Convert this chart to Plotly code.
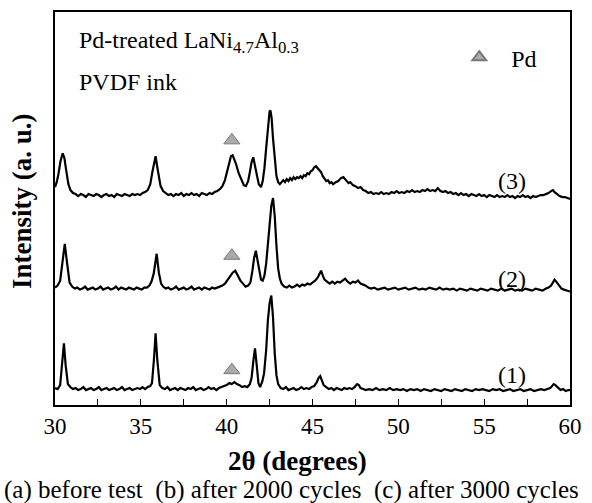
import plotly.graph_objects as go

# XRD patterns: (2theta in degrees, intensity in a.u.)
pattern1 = [
    (30.0, 17), (30.15, 16), (30.3, 20), (30.42, 40), (30.52, 62), (30.62, 40), (30.75, 21), (30.9, 18),
    (31.05, 16), (31.2, 17), (31.35, 15), (31.5, 16), (31.65, 18), (31.8, 15), (31.95, 16), (32.1, 17),
    (32.25, 15), (32.4, 16), (32.55, 18), (32.7, 15), (32.85, 16), (33.0, 17), (33.15, 15), (33.3, 16),
    (33.45, 17), (33.6, 15), (33.75, 16), (33.9, 18), (34.05, 15), (34.2, 16), (34.35, 17), (34.5, 15),
    (34.65, 16), (34.8, 17), (34.95, 16), (35.1, 18), (35.25, 16), (35.4, 18), (35.55, 19), (35.65, 22),
    (35.76, 45), (35.86, 72), (35.96, 45), (36.1, 20), (36.25, 17), (36.4, 16), (36.55, 18), (36.7, 15),
    (36.85, 16), (37.0, 17), (37.15, 15), (37.3, 17), (37.45, 16), (37.6, 15), (37.75, 17), (37.9, 16),
    (38.05, 18), (38.2, 15), (38.35, 16), (38.5, 17), (38.65, 15), (38.8, 16), (38.95, 18), (39.1, 16),
    (39.25, 17), (39.4, 15), (39.55, 17), (39.7, 18), (39.85, 19), (40.0, 20), (40.15, 22), (40.3, 21),
    (40.45, 23), (40.6, 21), (40.75, 20), (40.9, 18), (41.05, 19), (41.2, 18), (41.35, 21), (41.45, 27),
    (41.56, 45), (41.65, 57), (41.75, 40), (41.85, 22), (41.95, 18), (42.08, 24), (42.18, 32), (42.3, 55),
    (42.4, 85), (42.5, 102), (42.6, 110), (42.7, 88), (42.8, 52), (42.9, 30), (43.0, 21), (43.15, 17),
    (43.3, 16), (43.45, 18), (43.6, 15), (43.75, 16), (43.9, 17), (44.05, 15), (44.2, 16), (44.35, 18),
    (44.5, 16), (44.65, 17), (44.8, 16), (44.95, 18), (45.1, 19), (45.25, 23), (45.35, 27), (45.45, 29),
    (45.55, 24), (45.65, 20), (45.8, 18), (45.95, 16), (46.1, 17), (46.25, 15), (46.4, 17), (46.55, 16),
    (46.7, 15), (46.85, 17), (47.0, 16), (47.15, 17), (47.3, 16), (47.45, 18), (47.6, 21), (47.7, 20),
    (47.8, 17), (47.95, 16), (48.1, 15), (48.3, 16), (48.5, 15), (48.7, 17), (48.9, 15), (49.1, 16),
    (49.3, 15), (49.5, 17), (49.7, 15), (49.9, 16), (50.1, 15), (50.3, 16), (50.5, 14), (50.7, 16),
    (50.9, 15), (51.1, 16), (51.3, 14), (51.5, 16), (51.7, 15), (51.9, 14), (52.1, 16), (52.3, 15),
    (52.5, 14), (52.7, 16), (52.9, 15), (53.1, 14), (53.3, 16), (53.5, 15), (53.7, 14), (53.9, 16),
    (54.1, 15), (54.3, 14), (54.5, 16), (54.7, 15), (54.9, 16), (55.1, 15), (55.3, 14), (55.5, 16),
    (55.7, 15), (55.9, 16), (56.1, 14), (56.3, 15), (56.5, 16), (56.7, 14), (56.9, 15), (57.1, 16),
    (57.3, 14), (57.5, 15), (57.7, 16), (57.9, 14), (58.1, 15), (58.3, 16), (58.5, 15), (58.7, 16),
    (58.85, 17), (58.95, 19), (59.05, 21), (59.15, 20), (59.3, 17), (59.45, 15), (59.6, 16), (59.75, 14),
    (59.9, 15), (60.0, 15),
]

pattern2 = [
    (30.0, 118), (30.15, 120), (30.3, 125), (30.45, 145), (30.57, 162), (30.7, 143), (30.85, 123),
    (31.0, 119), (31.15, 117), (31.3, 118), (31.45, 116), (31.6, 117), (31.75, 119), (31.9, 116),
    (32.05, 117), (32.2, 118), (32.35, 116), (32.5, 117), (32.65, 119), (32.8, 116), (32.95, 117),
    (33.1, 118), (33.25, 116), (33.4, 117), (33.55, 119), (33.7, 116), (33.85, 118), (34.0, 117),
    (34.15, 116), (34.3, 118), (34.45, 117), (34.6, 116), (34.75, 118), (34.9, 117), (35.05, 116),
    (35.2, 118), (35.35, 118), (35.5, 120), (35.62, 124), (35.75, 132), (35.92, 152), (36.05, 133),
    (36.18, 122), (36.3, 119), (36.45, 117), (36.6, 118), (36.75, 116), (36.9, 117), (37.05, 119),
    (37.2, 116), (37.35, 117), (37.5, 118), (37.65, 116), (37.8, 117), (37.95, 119), (38.1, 116),
    (38.25, 117), (38.4, 118), (38.55, 116), (38.7, 118), (38.85, 117), (39.0, 116), (39.15, 118),
    (39.3, 117), (39.45, 118), (39.6, 119), (39.75, 120), (39.9, 122), (40.05, 126), (40.2, 129),
    (40.35, 133), (40.5, 135), (40.65, 130), (40.8, 125), (40.95, 122), (41.1, 119), (41.25, 120),
    (41.38, 123), (41.5, 135), (41.6, 148), (41.7, 155), (41.8, 145), (41.9, 132), (42.0, 126),
    (42.1, 125), (42.2, 130), (42.3, 142), (42.4, 160), (42.5, 182), (42.6, 200), (42.7, 208),
    (42.8, 190), (42.9, 160), (43.0, 137), (43.1, 127), (43.2, 122), (43.35, 119), (43.5, 118),
    (43.65, 120), (43.8, 118), (43.95, 119), (44.1, 121), (44.25, 119), (44.4, 121), (44.55, 120),
    (44.7, 122), (44.85, 121), (45.0, 123), (45.15, 125), (45.3, 128), (45.42, 133), (45.5, 135),
    (45.6, 130), (45.7, 126), (45.85, 124), (46.0, 122), (46.15, 124), (46.3, 122), (46.45, 124),
    (46.6, 123), (46.75, 125), (46.9, 127), (47.05, 124), (47.2, 122), (47.35, 124), (47.5, 123),
    (47.65, 125), (47.8, 122), (47.95, 121), (48.1, 120), (48.25, 118), (48.4, 117), (48.6, 118),
    (48.8, 116), (49.0, 117), (49.2, 118), (49.4, 116), (49.6, 117), (49.8, 118), (50.0, 116),
    (50.2, 117), (50.4, 118), (50.6, 116), (50.8, 117), (51.0, 118), (51.2, 116), (51.4, 117),
    (51.6, 116), (51.8, 118), (52.0, 117), (52.2, 116), (52.4, 118), (52.6, 116), (52.8, 117),
    (53.0, 116), (53.2, 117), (53.4, 115), (53.6, 117), (53.8, 116), (54.0, 115), (54.2, 117),
    (54.4, 116), (54.6, 115), (54.8, 117), (55.0, 116), (55.2, 115), (55.4, 117), (55.6, 116),
    (55.8, 115), (56.0, 117), (56.2, 115), (56.4, 116), (56.6, 117), (56.8, 115), (57.0, 116),
    (57.2, 115), (57.4, 117), (57.6, 116), (57.8, 115), (58.0, 117), (58.2, 116), (58.4, 115),
    (58.6, 117), (58.75, 118), (58.9, 120), (59.0, 123), (59.1, 126), (59.2, 124), (59.35, 120),
    (59.5, 117), (59.65, 116), (59.8, 115), (60.0, 114),
]

pattern3 = [
    (30.0, 219), (30.1, 224), (30.2, 232), (30.32, 245), (30.45, 253), (30.55, 248), (30.65, 236),
    (30.78, 222), (30.9, 216), (31.05, 213), (31.2, 212), (31.35, 210), (31.5, 212), (31.65, 211),
    (31.8, 209), (31.95, 212), (32.1, 211), (32.25, 210), (32.4, 212), (32.55, 211), (32.7, 209),
    (32.85, 211), (33.0, 212), (33.15, 210), (33.3, 211), (33.45, 209), (33.6, 212), (33.75, 211),
    (33.9, 210), (34.05, 212), (34.2, 211), (34.35, 210), (34.5, 212), (34.65, 211), (34.8, 212),
    (34.95, 211), (35.1, 213), (35.25, 214), (35.4, 216), (35.55, 222), (35.68, 235), (35.78, 246),
    (35.86, 250), (35.95, 240), (36.05, 228), (36.15, 220), (36.3, 215), (36.45, 213), (36.6, 211),
    (36.75, 212), (36.9, 210), (37.05, 212), (37.2, 211), (37.35, 213), (37.5, 210), (37.65, 212),
    (37.8, 211), (37.95, 213), (38.1, 211), (38.25, 212), (38.4, 210), (38.55, 213), (38.7, 212),
    (38.85, 211), (39.0, 213), (39.15, 212), (39.3, 214), (39.45, 215), (39.6, 217), (39.75, 220),
    (39.9, 226), (40.02, 235), (40.15, 245), (40.25, 250), (40.35, 251), (40.45, 247), (40.55, 242),
    (40.7, 233), (40.85, 226), (41.0, 221), (41.12, 220), (41.25, 225), (41.35, 234), (41.45, 244),
    (41.55, 249), (41.65, 242), (41.75, 232), (41.87, 222), (42.0, 219), (42.1, 225), (42.2, 238),
    (42.3, 258), (42.4, 280), (42.5, 295), (42.55, 296), (42.62, 288), (42.7, 268), (42.8, 245),
    (42.9, 230), (43.0, 224), (43.1, 222), (43.2, 224), (43.3, 226), (43.4, 224), (43.5, 227),
    (43.6, 225), (43.7, 228), (43.8, 226), (43.9, 229), (44.0, 227), (44.1, 229), (44.2, 228),
    (44.3, 230), (44.4, 228), (44.5, 231), (44.6, 230), (44.7, 233), (44.8, 232), (44.9, 235),
    (45.0, 236), (45.1, 239), (45.2, 240), (45.3, 238), (45.4, 237), (45.5, 234), (45.6, 230),
    (45.7, 227), (45.8, 225), (45.9, 226), (46.0, 223), (46.1, 224), (46.2, 222), (46.35, 224),
    (46.5, 225), (46.65, 228), (46.8, 229), (46.95, 226), (47.1, 223), (47.2, 224), (47.35, 221),
    (47.5, 220), (47.65, 218), (47.8, 219), (47.95, 216), (48.1, 215), (48.25, 213), (48.4, 214),
    (48.55, 212), (48.7, 213), (48.85, 212), (49.0, 214), (49.15, 212), (49.3, 213), (49.45, 212),
    (49.6, 214), (49.75, 213), (49.9, 215), (50.05, 213), (50.2, 214), (50.35, 213), (50.5, 215),
    (50.65, 214), (50.8, 216), (50.95, 214), (51.1, 215), (51.25, 214), (51.4, 216), (51.55, 215),
    (51.7, 217), (51.85, 215), (52.0, 216), (52.15, 215), (52.3, 218), (52.45, 215), (52.6, 214),
    (52.75, 215), (52.9, 213), (53.05, 214), (53.2, 212), (53.35, 213), (53.5, 211), (53.65, 213),
    (53.8, 211), (53.95, 212), (54.1, 210), (54.25, 212), (54.4, 211), (54.55, 210), (54.7, 212),
    (54.85, 210), (55.0, 211), (55.15, 209), (55.3, 211), (55.45, 210), (55.6, 209), (55.75, 211),
    (55.9, 209), (56.05, 210), (56.2, 209), (56.35, 211), (56.5, 209), (56.65, 210), (56.8, 208),
    (56.95, 210), (57.1, 209), (57.25, 211), (57.4, 209), (57.55, 210), (57.7, 208), (57.85, 210),
    (58.0, 209), (58.15, 210), (58.3, 211), (58.45, 211), (58.6, 212), (58.75, 213), (58.9, 215),
    (59.0, 216), (59.1, 214), (59.25, 212), (59.4, 210), (59.55, 209), (59.7, 209), (59.85, 208),
    (60.0, 207),
]

tt1 = [p[0] for p in pattern1]
int1 = [p[1] for p in pattern1]
tt2 = [p[0] for p in pattern2]
int2 = [p[1] for p in pattern2]
tt3 = [p[0] for p in pattern3]
int3 = [p[1] for p in pattern3]

pd_marker_tt = [40.3, 40.3, 40.3]
pd_marker_int = [266, 150, 35]

curve_labels = ["(1)", "(2)", "(3)"]
curve_label_tt = [56.6, 56.6, 56.6]
curve_label_int = [30, 127, 225]

x_ticks = [30, 35, 40, 45, 50, 55, 60]

SERIF = "Liberation Serif"

fig = go.Figure()
for tt, iv, nm in [(tt1, int1, "(1)"), (tt2, int2, "(2)"), (tt3, int3, "(3)")]:
    fig.add_trace(go.Scatter(x=tt, y=iv, mode="lines", line=dict(color="black", width=2.2),
                             showlegend=False, name=nm))

fig.add_trace(go.Scatter(x=pd_marker_tt, y=pd_marker_int, mode="markers", name="  Pd",
                         marker=dict(symbol="triangle-up", size=14, color="#aaaaaa",
                                     line=dict(color="#777777", width=1)),
                         showlegend=True))

annotations = []
for lab, xv, yv in zip(curve_labels, curve_label_tt, curve_label_int):
    annotations.append(dict(x=xv, y=yv, text=lab, showarrow=False, xanchor="center", yanchor="middle",
                            font=dict(family=SERIF, size=24, color="black")))

annotations += [
    dict(x=31.26, y=365, text="Pd-treated LaNi<sub>4.7</sub>Al<sub>0.3</sub>", showarrow=False,
         xanchor="left", yanchor="middle", font=dict(family=SERIF, size=24, color="black")),
    dict(x=31.26, y=325, text="PVDF ink", showarrow=False,
         xanchor="left", yanchor="middle", font=dict(family=SERIF, size=24, color="black")),
    dict(x=0, y=0.519, xref="paper", yref="paper", xshift=-33, text="<b>Intensity (a. u.)</b>",
         textangle=-90, showarrow=False, xanchor="center", yanchor="middle",
         font=dict(family=SERIF, size=27, color="black")),
    dict(x=0.47, y=0, xref="paper", yref="paper", yshift=-56, text="<b>2θ (degrees)</b>",
         showarrow=False, xanchor="center", yanchor="middle",
         font=dict(family=SERIF, size=27, color="black")),
    dict(x=0, y=0, xref="paper", yref="paper", xshift=-53, yshift=-85,
         text="(a) before test  (b) after 2000 cycles  (c) after 3000 cycles",
         showarrow=False, xanchor="left", yanchor="middle",
         font=dict(family=SERIF, size=25, color="black")),
]

fig.update_layout(
    width=592, height=503,
    margin=dict(l=55, r=15, t=10, b=98),
    paper_bgcolor="white", plot_bgcolor="white",
    annotations=annotations,
    showlegend=True,
    legend=dict(x=0.785, y=0.884, xanchor="left", yanchor="middle", bgcolor="rgba(0,0,0,0)",
                font=dict(family=SERIF, size=24, color="black"), itemsizing="constant"),
    xaxis=dict(range=[30, 60], tickvals=x_ticks, ticks="inside", ticklen=6, tickwidth=1.2,
               tickcolor="black", showline=True, linecolor="black", linewidth=1.5, mirror=True,
               showgrid=False, zeroline=False,
               minor=dict(dtick=2.5, ticks="inside", ticklen=6, tickcolor="black", tickwidth=1.2),
               tickfont=dict(family=SERIF, size=23, color="black")),
    yaxis=dict(range=[0, 395], showticklabels=False, ticks="", showline=True, linecolor="black",
               linewidth=1.5, mirror=True, showgrid=False, zeroline=False),
)

fig.write_html("out.html")
